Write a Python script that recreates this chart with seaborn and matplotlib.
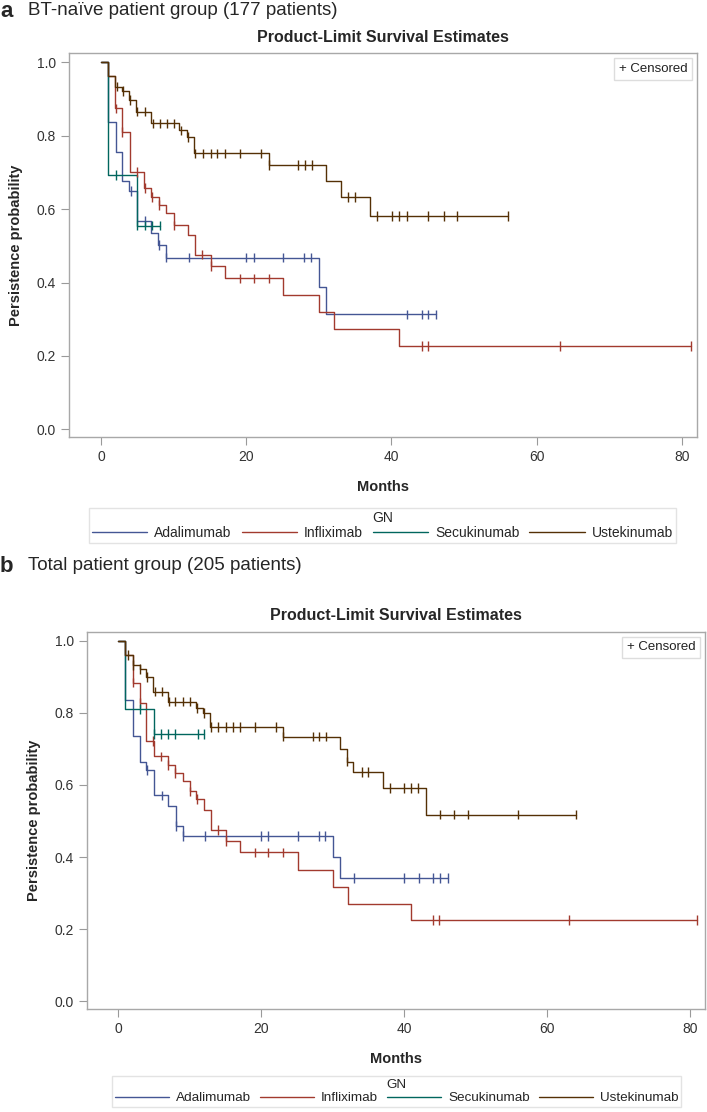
#
# Kaplan-Meier style persistence curves, two panels (BT-naive / total group)
#

import numpy as np
import pandas as pd
import matplotlib
matplotlib.use("Agg")
import matplotlib.pyplot as plt
from matplotlib.lines import Line2D
import seaborn as sns

drugs = ["Adalimumab", "Infliximab", "Secukinumab", "Ustekinumab"]
colors = ["#445694", "#A23A2E", "#01665E", "#543005"]

# ---- panel a: BT-naive patient group ----
a_ada_t = [0, 1.0, 2.0, 2.9, 3.9, 4.9, 6.9, 7.9, 8.9, 30.0, 31.0, 46.2]
a_ada_s = [1.0, 0.839, 0.757, 0.677, 0.649, 0.567, 0.534, 0.502, 0.468, 0.388, 0.313, 0.313]
a_ada_c = [4.1, 6.0, 8.0, 9.0, 12.1, 20.0, 21.1, 25.0, 27.9, 28.9, 42.2, 44.2, 45.1, 46.2]

a_inf_t = [0, 1.0, 1.9, 2.85, 3.95, 5.95, 6.95, 7.95, 8.9, 10.0, 12.0, 13.0, 15.1, 17.1,
           25.1, 30.05, 32.1, 41.1, 81.3]
a_inf_s = [1.0, 0.962, 0.875, 0.811, 0.702, 0.657, 0.634, 0.611, 0.589, 0.556, 0.529, 0.476,
           0.445, 0.411, 0.365, 0.320, 0.274, 0.227, 0.227]
a_inf_c = [2.0, 2.9, 4.9, 6.0, 7.0, 8.0, 10.0, 13.9, 15.1, 19.1, 21.1, 23.1, 44.2, 45.1, 63.2, 81.3]

a_sec_t = [0, 0.9, 4.9, 8.1]
a_sec_s = [1.0, 0.693, 0.555, 0.555]
a_sec_c = [2.0, 4.95, 6.0, 7.0, 8.1]

a_ust_t = [0, 1.0, 1.9, 2.85, 3.8, 4.8, 6.9, 10.8, 11.85, 12.8, 23.1, 31.0, 33.0, 37.1, 56.1]
a_ust_s = [1.0, 0.962, 0.934, 0.922, 0.898, 0.866, 0.834, 0.815, 0.797, 0.752, 0.720, 0.677,
           0.634, 0.582, 0.582]
a_ust_c = [2.2, 3.0, 4.0, 5.0, 6.1, 7.1, 8.1, 9.1, 10.1, 11.0, 12.0, 13.0, 14.0, 15.1, 16.0,
           17.1, 19.1, 22.1, 23.1, 27.1, 28.1, 29.1, 34.0, 35.0, 38.0, 40.1, 41.1, 42.1, 45.1,
           47.2, 49.1, 56.1]

# ---- panel b: total patient group ----
b_ada_t = [0, 1.0, 2.0, 3.0, 3.9, 5.05, 7.0, 8.05, 9.0, 30.0, 31.0, 46.1]
b_ada_s = [1.0, 0.836, 0.737, 0.665, 0.642, 0.571, 0.542, 0.486, 0.458, 0.400, 0.342, 0.342]
b_ada_c = [4.0, 6.1, 8.1, 9.0, 12.2, 20.0, 21.0, 25.1, 28.1, 29.0, 33.0, 40.0, 42.1, 44.1, 45.0, 46.1]

b_inf_t = [0, 1.0, 2.0, 3.0, 3.9, 5.0, 7.0, 8.0, 9.0, 10.0, 10.9, 12.0, 13.0, 15.1, 17.1,
           25.1, 30.0, 32.1, 41.0, 81.0]
b_inf_s = [1.0, 0.960, 0.884, 0.827, 0.722, 0.679, 0.656, 0.633, 0.610, 0.582, 0.561, 0.531,
           0.476, 0.445, 0.413, 0.363, 0.317, 0.271, 0.225, 0.225]
b_inf_c = [2.0, 3.0, 4.9, 6.0, 7.0, 8.0, 10.0, 11.0, 14.0, 15.1, 19.1, 21.0, 23.0, 44.1, 44.9,
           63.1, 81.0]

b_sec_t = [0, 1.0, 5.0, 12.0]
b_sec_s = [1.0, 0.810, 0.742, 0.742]
b_sec_c = [3.0, 5.0, 6.0, 7.0, 8.0, 11.1, 12.0]

b_ust_t = [0, 1.0, 2.05, 3.0, 3.9, 4.9, 6.9, 10.9, 11.9, 12.9, 23.0, 31.0, 32.0, 32.9, 37.0,
           43.0, 64.1]
b_ust_s = [1.0, 0.960, 0.933, 0.921, 0.900, 0.859, 0.831, 0.813, 0.799, 0.760, 0.734, 0.699,
           0.665, 0.636, 0.591, 0.518, 0.518]
b_ust_c = [1.3, 2.1, 3.0, 4.0, 5.1, 6.1, 7.1, 8.0, 9.1, 10.1, 11.0, 12.0, 13.0, 13.9, 15.1,
           16.0, 17.1, 19.2, 22.1, 23.0, 27.2, 28.1, 29.1, 32.0, 34.1, 35.0, 38.0, 40.0, 41.0,
           42.0, 45.0, 47.0, 49.0, 56.0, 64.1]

panel_a = [(a_ada_t, a_ada_s, a_ada_c), (a_inf_t, a_inf_s, a_inf_c),
           (a_sec_t, a_sec_s, a_sec_c), (a_ust_t, a_ust_s, a_ust_c)]
panel_b = [(b_ada_t, b_ada_s, b_ada_c), (b_inf_t, b_inf_s, b_inf_c),
           (b_sec_t, b_sec_s, b_sec_c), (b_ust_t, b_ust_s, b_ust_c)]


def build_frames(panel):
    """long-form frames for the step curves and the censor marks"""
    curves, cens = [], []
    for name, (t, s, c) in zip(drugs, panel):
        curves.append(pd.DataFrame({"t": t, "s": s, "GN": name}))
        idx = np.searchsorted(t, c, side="right") - 1
        cens.append(pd.DataFrame({"t": c, "s": np.asarray(s)[idx], "GN": name}))
    return pd.concat(curves, ignore_index=True), pd.concat(cens, ignore_index=True)


sns.set_style("white")
plt.rcParams["font.family"] = ["Liberation Sans", "DejaVu Sans"]

fig = plt.figure(figsize=(7.07, 11.12), dpi=100)
pal = dict(zip(drugs, colors))
W, H = 707.0, 1112.0


def draw_panel(panel, box, label, caption, label_top, title_y, legend_box, leg_font):
    left, top, right, bottom = box
    ax = fig.add_axes([left / W, 1 - bottom / H, (right - left) / W, (bottom - top) / H])
    curves, cens = build_frames(panel)
    sns.lineplot(data=curves, x="t", y="s", hue="GN", palette=pal, estimator=None,
                 sort=False, drawstyle="steps-post", lw=1.0, legend=False, ax=ax)
    sns.scatterplot(data=cens, x="t", y="s", hue="GN", palette=pal, marker="|", s=48,
                    linewidths=1.0, legend=False, ax=ax, zorder=3)
    ax.set_xlim(-4.37, 82.1)
    ax.set_ylim(-0.022, 1.025)
    ax.set_xticks([0, 20, 40, 60, 80])
    ax.set_yticks([0.0, 0.2, 0.4, 0.6, 0.8, 1.0])
    ax.set_yticklabels([f"{v:.1f}" for v in ax.get_yticks()])
    ax.tick_params(axis="both", length=6, width=0.8, color="#9a9a9a", labelsize=10,
                   labelcolor="#333333", direction="out", left=True, bottom=True)
    for sp in ax.spines.values():
        sp.set_color("#a8a8a8")
        sp.set_linewidth(1.0)
    ax.set_xlabel("Months", fontsize=10.5, fontweight="bold", labelpad=11)
    ax.set_ylabel("Persistence probability", fontsize=10.5, fontweight="bold", labelpad=10)
    ax.text(0.985, 0.975, "+ Censored", transform=ax.transAxes, ha="right", va="top",
            fontsize=9.5, color="#222222",
            bbox=dict(boxstyle="square,pad=0.35", fc="white", ec="#dddddd", lw=1.0))

    cx = (left + right) / 2 / W
    fig.text(cx, 1 - title_y / H, "Product-Limit Survival Estimates", ha="center",
             va="center", fontsize=11.5, fontweight="bold")
    fig.text(0.0, 1 - label_top / H, label, ha="left", va="top", fontsize=16,
             fontweight="bold")
    fig.text(28 / W, 1 - (label_top + 1) / H, caption, ha="left", va="top", fontsize=13.5)

    handles = [Line2D([0], [0], color=c, lw=1.0) for c in colors]
    lx0, ly0, lx1, ly1 = legend_box
    leg = fig.legend(handles, drugs, title="GN", ncol=4, loc="upper center",
                     bbox_to_anchor=((lx0 + lx1) / 2 / W, 1 - ly0 / H),
                     fontsize=leg_font, title_fontsize=leg_font, frameon=True,
                     fancybox=False, edgecolor="#dddddd", handlelength=4.0,
                     borderpad=0.2, labelspacing=0.1, columnspacing=0.7,
                     handletextpad=0.5, borderaxespad=0.0)
    leg.get_frame().set_linewidth(1.0)
    return ax


draw_panel(panel_a, (69.3, 53.3, 697.0, 437.3), "a", "BT-naïve patient group (177 patients)",
           1, 37, (86, 508, 679, 540), 10)
draw_panel(panel_b, (87.0, 631.7, 705.0, 1009.3), "b", "Total patient group (205 patients)",
           556, 616, (104.6, 1076, 689, 1110), 9.7)

fig.savefig("out.png", dpi=100)
